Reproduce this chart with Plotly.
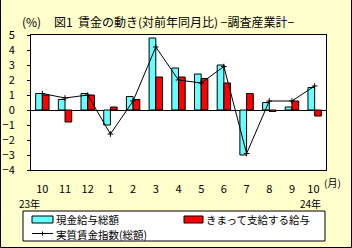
import plotly.graph_objects as go

# Monthly year-on-year change (%), Oct 2023 - Oct 2024
months = ["10", "11", "12", "1", "2", "3", "4", "5", "6", "7", "8", "9", "10 "]
cash_total = [1.1, 0.7, 1.1, -1.0, 0.9, 4.8, 2.8, 2.4, 3.0, -3.0, 0.5, 0.2, 1.5]
scheduled = [1.0, -0.8, 1.0, 0.2, 0.7, 2.2, 2.2, 2.1, 1.8, 1.1, -0.1, 0.6, -0.4]
real_index = [1.1, 0.8, 1.0, -1.6, 0.6, 4.2, 2.0, 1.8, 2.9, -2.9, 0.6, 0.6, 1.6]

yticks = [5, 4, 3, 2, 1, 0, -1, -2, -3, -4]
yticklabels = ["5", "4", "3", "2", "1", "0", "−1", "−2", "−3", "−4"]

W, H = 352, 248
L, R, T, B = 31, 26, 35, 78
PW, PH = W - L - R, H - T - B
FONT = "Noto Sans CJK JP"
CYAN = "#66FFFF"
RED = "#FF0000"
BG = "#FFFFCC"


def px(x):
    return (x - L) / PW


def py(y):
    return (H - B - y) / PH


fig = go.Figure()
fig.add_trace(go.Bar(x=months, y=cash_total, name="現金給与総額",
                     marker=dict(color=CYAN, line=dict(color="black", width=1)),
                     showlegend=False))
fig.add_trace(go.Bar(x=months, y=scheduled, name="きまって支給する給与",
                     marker=dict(color=RED, line=dict(color="black", width=1)),
                     showlegend=False))
fig.add_trace(go.Scatter(x=months, y=real_index, name="実質賃金指数(総額)",
                         mode="lines+markers",
                         line=dict(color="black", width=1),
                         marker=dict(symbol="cross-thin", size=4,
                                     line=dict(color="black", width=1)),
                         showlegend=False))

shapes = []
annotations = []

# outer frame
shapes.append(dict(type="rect", xref="paper", yref="paper",
                   x0=px(0.5), x1=px(W - 0.5), y0=py(H - 0.5), y1=py(-2),
                   line=dict(color="black", width=1), fillcolor="rgba(0,0,0,0)",
                   layer="below"))

# legend box
shapes.append(dict(type="rect", xref="paper", yref="paper",
                   x0=px(23), x1=px(325), y0=py(241), y1=py(211),
                   line=dict(color="black", width=1), fillcolor="white"))
# legend swatches
shapes.append(dict(type="rect", xref="paper", yref="paper",
                   x0=px(32), x1=px(53), y0=py(223), y1=py(216),
                   line=dict(color="black", width=1), fillcolor=CYAN))
shapes.append(dict(type="rect", xref="paper", yref="paper",
                   x0=px(184), x1=px(203), y0=py(223), y1=py(216),
                   line=dict(color="black", width=1), fillcolor=RED))
shapes.append(dict(type="line", xref="paper", yref="paper",
                   x0=px(32), x1=px(53), y0=py(233.5), y1=py(233.5),
                   line=dict(color="black", width=1)))
shapes.append(dict(type="line", xref="paper", yref="paper",
                   x0=px(42.5), x1=px(42.5), y0=py(231.5), y1=py(235.5),
                   line=dict(color="black", width=1)))


def note(text, x, y, size=12, xanchor="left"):
    annotations.append(dict(text=text, xref="paper", yref="paper",
                            x=px(x), y=py(y), xanchor=xanchor, yanchor="middle",
                            borderpad=0, showarrow=False,
                            font=dict(family=FONT, size=size, color="black")))


note("現金給与総額", 55, 219, size=10.5)
note("きまって支給する給与", 205, 219, size=10.5)
note("実質賃金指数(総額)", 55, 234, size=10.5)
note("(%)", 21, 21.5, size=12)
note("図1  賃金の動き(対前年同月比) −調査産業計−", 53, 21.5, size=12)
note("(月)", 323, 182.5, size=10)
note("23年", 18, 203.5, size=10)
note("24年", 299, 203.5, size=10)

fig.update_layout(
    width=W, height=H,
    margin=dict(l=L, r=R, t=T, b=B, pad=0, autoexpand=False),
    paper_bgcolor=BG, plot_bgcolor="white",
    barmode="group", bargap=0.41, bargroupgap=0,
    font=dict(family=FONT, size=11, color="black"),
    shapes=shapes, annotations=annotations,
    showlegend=False,
)
fig.update_xaxes(type="category", range=[-0.5, 12.5], showline=True, mirror=True,
                 linecolor="black", linewidth=1, showgrid=False, ticks="",
                 automargin=False,
                 tickfont=dict(family=FONT, size=11), ticklabelstandoff=9)
fig.update_yaxes(range=[-4, 5], tickvals=yticks, ticktext=yticklabels,
                 showline=True, mirror=True, linecolor="black", linewidth=1,
                 showgrid=False, zeroline=True, zerolinecolor="black", zerolinewidth=1,
                 ticks="outside", ticklen=3, tickcolor="black", automargin=False,
                 tickfont=dict(family=FONT, size=11), ticklabelstandoff=10)

fig.write_html("out.html")
